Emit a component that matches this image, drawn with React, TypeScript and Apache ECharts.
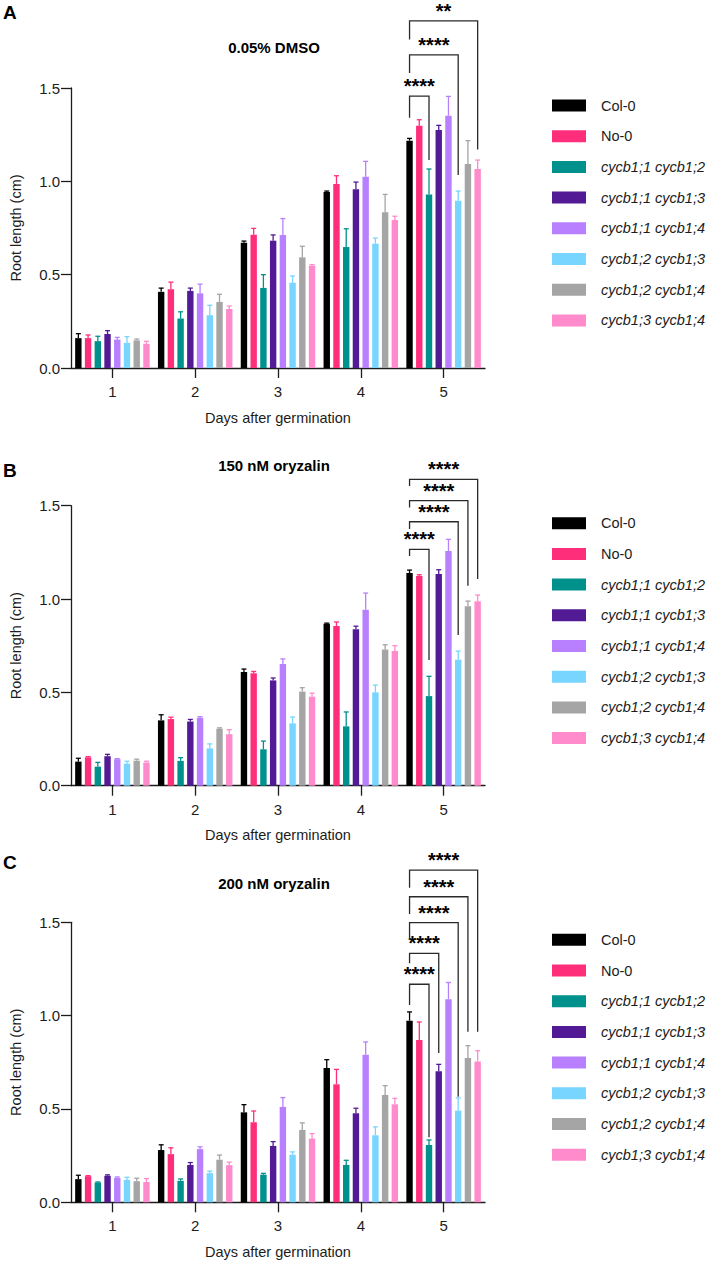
import React, { useEffect, useRef } from 'react';
import * as echarts from 'echarts';

// ---------------- data ----------------
const days = ['1', '2', '3', '4', '5'];
const genotypes = [
  'Col-0',
  'No-0',
  'cycb1;1 cycb1;2',
  'cycb1;1 cycb1;3',
  'cycb1;1 cycb1;4',
  'cycb1;2 cycb1;3',
  'cycb1;2 cycb1;4',
  'cycb1;3 cycb1;4',
];
const colors = ['#000000', '#FF2E7B', '#00918D', '#521B95', '#B880FF', '#78D5FF', '#A5A5A5', '#FF8BCC'];
const panelLetters = ['A', 'B', 'C'];
const panelTitles = ['0.05% DMSO', '150 nM oryzalin', '200 nM oryzalin'];
const yTickValues = [0, 0.5, 1.0, 1.5];

// mean root length (cm), one row per genotype, one value per day
const meanDMSO = [
  [0.16, 0.408, 0.671, 0.943, 1.218],
  [0.16, 0.422, 0.714, 0.986, 1.298],
  [0.144, 0.265, 0.429, 0.648, 0.929],
  [0.182, 0.413, 0.682, 0.957, 1.275],
  [0.152, 0.4, 0.7125, 1.025, 1.352],
  [0.135, 0.283, 0.457, 0.666, 0.896],
  [0.148, 0.354, 0.593, 0.834, 1.093],
  [0.13, 0.316, 0.548, 0.793, 1.066],
];
const sdDMSO = [
  [0.024, 0.02, 0.009, 0.005, 0.012],
  [0.017, 0.038, 0.034, 0.044, 0.032],
  [0.026, 0.036, 0.071, 0.098, 0.137],
  [0.018, 0.015, 0.031, 0.039, 0.025],
  [0.012, 0.049, 0.088, 0.082, 0.103],
  [0.033, 0.053, 0.036, 0.03, 0.052],
  [0.007, 0.041, 0.059, 0.096, 0.125],
  [0.013, 0.016, 0.006, 0.02, 0.048],
];
const mean150 = [
  [0.129, 0.35, 0.609, 0.868, 1.139],
  [0.152, 0.357, 0.602, 0.855, 1.123],
  [0.102, 0.133, 0.195, 0.318, 0.48],
  [0.158, 0.344, 0.564, 0.8375, 1.134],
  [0.142, 0.364, 0.652, 0.943, 1.257],
  [0.118, 0.2, 0.334, 0.5, 0.675],
  [0.134, 0.305, 0.504, 0.729, 0.961],
  [0.124, 0.276, 0.477, 0.721, 0.9875],
];
const sd150 = [
  [0.018, 0.03, 0.016, 0.003, 0.016],
  [0.004, 0.01, 0.01, 0.022, 0.007],
  [0.023, 0.017, 0.044, 0.077, 0.106],
  [0.01, 0.011, 0.013, 0.017, 0.023],
  [0.003, 0.006, 0.027, 0.089, 0.063],
  [0.013, 0.024, 0.034, 0.039, 0.046],
  [0.008, 0.005, 0.021, 0.026, 0.028],
  [0.007, 0.024, 0.019, 0.029, 0.034],
];
const mean200 = [
  [0.124, 0.28, 0.482, 0.72, 0.973],
  [0.14, 0.258, 0.429, 0.632, 0.87],
  [0.106, 0.115, 0.148, 0.2, 0.307],
  [0.142, 0.2, 0.302, 0.477, 0.702],
  [0.131, 0.285, 0.511, 0.791, 1.0875],
  [0.12, 0.156, 0.255, 0.359, 0.491],
  [0.113, 0.228, 0.3875, 0.575, 0.773],
  [0.109, 0.199, 0.341, 0.525, 0.754],
];
const sd200 = [
  [0.021, 0.028, 0.041, 0.044, 0.047],
  [0.003, 0.034, 0.06, 0.08, 0.096],
  [0.003, 0.01, 0.007, 0.025, 0.027],
  [0.005, 0.013, 0.023, 0.027, 0.037],
  [0.005, 0.012, 0.05, 0.068, 0.09],
  [0.014, 0.011, 0.015, 0.045, 0.068],
  [0.016, 0.025, 0.038, 0.05, 0.066],
  [0.018, 0.016, 0.027, 0.032, 0.058],
];

// significance brackets on day 5: [fromGenotype, toGenotype, top, leftLegEnd, rightLegEnd, label]
const bracketsDMSO: [number, number, number, number, number, string][] = [
  [0, 2, 1.457, 1.34, 1.114, '****'],
  [0, 5, 1.677, 1.58, 1.034, '****'],
  [0, 7, 1.86, 1.76, 1.17, '**'],
];
const brackets150: [number, number, number, number, number, string][] = [
  [0, 2, 1.266, 1.23, 0.673, '****'],
  [0, 5, 1.414, 1.375, 0.807, '****'],
  [0, 6, 1.527, 1.49, 1.071, '****'],
  [0, 7, 1.641, 1.605, 1.107, '****'],
];
const brackets200: [number, number, number, number, number, string][] = [
  [0, 2, 1.168, 1.057, 0.348, '****'],
  [0, 3, 1.334, 1.28, 0.8, '****'],
  [0, 5, 1.498, 1.405, 0.566, '****'],
  [0, 6, 1.637, 1.544, 0.914, '****'],
  [0, 7, 1.78, 1.685, 0.914, '****'],
];
const bracketDay = 4; // index of day 5

const means = [meanDMSO, mean150, mean200];
const sds = [sdDMSO, sd150, sd200];
const brackets = [bracketsDMSO, brackets150, brackets200];

// ---------------- layout ----------------
const FONT = '"Liberation Sans", Arial, Helvetica, sans-serif';
const W = 709;
const H = 1265;
const GRID_LEFT = 63;
const GRID_W = 422;
const GRID_H = 280;
const GRID_TOPS = [88, 505.7, 922.3];
const TITLE_Y = [47, 465, 883];
const LETTER_Y = [12, 470, 862];
const BAR_W = 6.4;
const BAR_GAP = 0.52;
const STEP = BAR_W * (1 + BAR_GAP);
const CAP = 5;
const AXIS_COLOR = '#1c1c1c';
const TEXT_COLOR = '#1c1c1c';

function buildOption() {
  const grid: any[] = [];
  const xAxis: any[] = [];
  const yAxis: any[] = [];
  const series: any[] = [];
  const legend: any[] = [];
  const graphic: any[] = [];

  for (let p = 0; p < 3; p++) {
    grid.push({ left: GRID_LEFT, top: GRID_TOPS[p], width: GRID_W, height: GRID_H });
    xAxis.push({
      type: 'category',
      gridIndex: p,
      data: days,
      name: 'Days after germination',
      nameLocation: 'middle',
      nameGap: 42,
      nameTextStyle: { fontFamily: FONT, fontSize: 14.5, color: TEXT_COLOR },
      axisLine: { show: true, lineStyle: { color: AXIS_COLOR, width: 1.3 } },
      axisTick: { show: true, alignWithLabel: true, length: 10, lineStyle: { color: AXIS_COLOR, width: 1.3 } },
      axisLabel: { fontFamily: FONT, fontSize: 15, color: TEXT_COLOR, margin: 16 },
      splitLine: { show: false },
    });
    yAxis.push({
      type: 'value',
      gridIndex: p,
      min: 0,
      max: yTickValues[yTickValues.length - 1],
      interval: yTickValues[1] - yTickValues[0],
      name: 'Root length (cm)',
      nameLocation: 'middle',
      nameGap: 48,
      nameTextStyle: { fontFamily: FONT, fontSize: 14.5, color: TEXT_COLOR },
      axisLine: { show: true, lineStyle: { color: AXIS_COLOR, width: 1.3 } },
      axisTick: { show: true, length: 10, lineStyle: { color: AXIS_COLOR, width: 1.3 } },
      axisLabel: {
        fontFamily: FONT,
        fontSize: 15,
        color: TEXT_COLOR,
        margin: 11,
        formatter: (v: number) => v.toFixed(1),
      },
      splitLine: { show: false },
    });

    genotypes.forEach((g, gi) => {
      series.push({
        type: 'bar',
        name: g,
        xAxisIndex: p,
        yAxisIndex: p,
        data: means[p][gi],
        barWidth: BAR_W,
        barGap: `${BAR_GAP * 100}%`,
        itemStyle: { color: colors[gi] },
        silent: true,
        z: 2,
      });
    });

    // error bars (mean + SD)
    const errData: number[][] = [];
    genotypes.forEach((_, gi) => {
      days.forEach((_, di) => {
        errData.push([di, gi, means[p][gi][di], means[p][gi][di] + sds[p][gi][di]]);
      });
    });
    series.push({
      type: 'custom',
      name: `err${p}`,
      xAxisIndex: p,
      yAxisIndex: p,
      data: errData,
      encode: { x: 0, y: 3 },
      silent: true,
      z: 3,
      renderItem: (params: any, api: any) => {
        const cat = api.value(0);
        const gi = api.value(1);
        const m = api.value(2);
        const t = api.value(3);
        const base = api.coord([cat, m]);
        const top = api.coord([cat, t]);
        const x = base[0] + (gi - 3.5) * STEP;
        const stroke = colors[gi];
        return {
          type: 'group',
          children: [
            { type: 'line', shape: { x1: x, y1: base[1], x2: x, y2: top[1] }, style: { stroke, lineWidth: 1.3 } },
            { type: 'line', shape: { x1: x - CAP / 2, y1: top[1], x2: x + CAP / 2, y2: top[1] }, style: { stroke, lineWidth: 1.3 } },
          ],
        };
      },
    });

    // significance brackets
    const br = brackets[p];
    series.push({
      type: 'custom',
      name: `sig${p}`,
      xAxisIndex: p,
      yAxisIndex: p,
      data: br.map((b) => [bracketDay, b[2]]),
      encode: { x: 0, y: 1 },
      silent: true,
      clip: false,
      z: 4,
      renderItem: (params: any, api: any) => {
        const b = br[params.dataIndex];
        const c = api.coord([bracketDay, b[2]]);
        const xl = c[0] + (b[0] - 3.5) * STEP;
        const xr = c[0] + (b[1] - 3.5) * STEP;
        const yTop = c[1];
        const yL = api.coord([bracketDay, b[3]])[1];
        const yR = api.coord([bracketDay, b[4]])[1];
        return {
          type: 'group',
          children: [
            {
              type: 'polyline',
              shape: { points: [[xl, yL], [xl, yTop], [xr, yTop], [xr, yR]] },
              style: { stroke: '#2a2a2a', lineWidth: 1.3, fill: 'none' },
            },
            {
              type: 'text',
              x: (xl + xr) / 2,
              y: yTop - 10,
              style: {
                text: b[5],
                font: `bold 20px ${FONT}`,
                fill: '#000',
                align: 'center',
                verticalAlign: 'middle',
                textAlign: 'center',
                textVerticalAlign: 'middle',
              },
            },
          ],
        };
      },
    });

    legend.push({
      orient: 'vertical',
      left: 547,
      top: GRID_TOPS[p] + 5,
      itemWidth: 34,
      itemHeight: 12,
      itemGap: 15.7,
      icon: 'rect',
      selectedMode: false,
      data: genotypes,
      formatter: (name: string) => (genotypes.indexOf(name) >= 2 ? `{i|${name}}` : `{n|${name}}`),
      textStyle: {
        fontFamily: FONT,
        fontSize: 14.5,
        color: TEXT_COLOR,
        padding: [0, 0, 0, 10],
        rich: {
          i: { fontFamily: FONT, fontSize: 14.5, fontStyle: 'italic', color: TEXT_COLOR, lineHeight: 14 },
          n: { fontFamily: FONT, fontSize: 14.5, color: TEXT_COLOR, lineHeight: 14 },
        },
      },
    });

    graphic.push({
      type: 'text',
      x: 3,
      y: LETTER_Y[p],
      style: {
        text: panelLetters[p],
        font: `bold 19px ${FONT}`,
        fill: '#000',
        align: 'left',
        verticalAlign: 'middle',
        textAlign: 'left',
        textVerticalAlign: 'middle',
      },
    });
    graphic.push({
      type: 'text',
      x: GRID_LEFT + GRID_W / 2,
      y: TITLE_Y[p],
      style: {
        text: panelTitles[p],
        font: `bold 15px ${FONT}`,
        fill: '#000',
        align: 'center',
        verticalAlign: 'middle',
        textAlign: 'center',
        textVerticalAlign: 'middle',
      },
    });
  }

  return {
    animation: false,
    backgroundColor: '#ffffff',
    grid,
    xAxis,
    yAxis,
    series,
    legend,
    graphic,
  };
}

export default function App() {
  const ref = useRef<HTMLDivElement>(null);
  useEffect(() => {
    document.body.style.margin = '0';
    if (!ref.current) return;
    const chart = echarts.init(ref.current, undefined, { renderer: 'svg' });
    chart.setOption(buildOption());
    return () => {
      chart.dispose();
    };
  }, []);
  return <div ref={ref} style={{ width: W, height: H }} />;
}
